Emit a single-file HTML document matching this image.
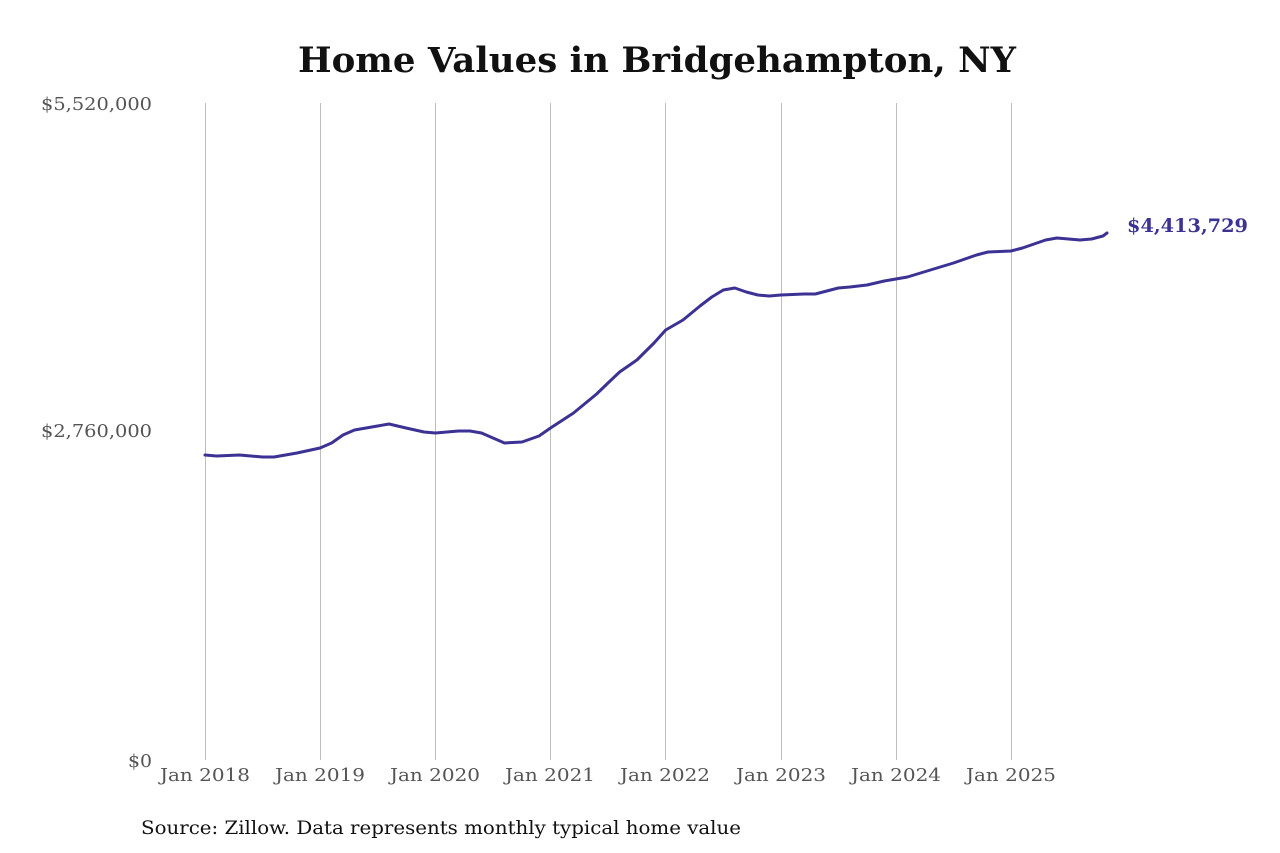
<!DOCTYPE html>
<html><head><meta charset="utf-8"><style>
html,body{margin:0;padding:0;background:#fff;}
svg{display:block;}
</style></head><body>
<svg width="1280" height="853" xmlns="http://www.w3.org/2000/svg" font-family="'DejaVu Serif','Liberation Serif',serif">
<text x="298" y="72" font-size="35" font-weight="bold" fill="#111" textLength="718" lengthAdjust="spacingAndGlyphs">Home Values in Bridgehampton, NY</text>
<g stroke="#bdbdbd" stroke-width="1">
<line x1="205.5" y1="103" x2="205.5" y2="760"/>
<line x1="320.5" y1="103" x2="320.5" y2="760"/>
<line x1="435.5" y1="103" x2="435.5" y2="760"/>
<line x1="550.5" y1="103" x2="550.5" y2="760"/>
<line x1="665.5" y1="103" x2="665.5" y2="760"/>
<line x1="781.5" y1="103" x2="781.5" y2="760"/>
<line x1="896.5" y1="103" x2="896.5" y2="760"/>
<line x1="1011.5" y1="103" x2="1011.5" y2="760"/>
</g>
<g font-size="18" fill="#555">
<text x="41" y="110" textLength="111" lengthAdjust="spacingAndGlyphs">$5,520,000</text>
<text x="41" y="437" textLength="111" lengthAdjust="spacingAndGlyphs">$2,760,000</text>
<text x="128" y="767" textLength="24" lengthAdjust="spacingAndGlyphs">$0</text>
</g>
<g font-size="18" fill="#555">
<text x="160" y="781" textLength="90" lengthAdjust="spacingAndGlyphs">Jan 2018</text>
<text x="275" y="781" textLength="90" lengthAdjust="spacingAndGlyphs">Jan 2019</text>
<text x="390" y="781" textLength="90" lengthAdjust="spacingAndGlyphs">Jan 2020</text>
<text x="505" y="781" textLength="90" lengthAdjust="spacingAndGlyphs">Jan 2021</text>
<text x="620" y="781" textLength="90" lengthAdjust="spacingAndGlyphs">Jan 2022</text>
<text x="736" y="781" textLength="90" lengthAdjust="spacingAndGlyphs">Jan 2023</text>
<text x="851" y="781" textLength="90" lengthAdjust="spacingAndGlyphs">Jan 2024</text>
<text x="966" y="781" textLength="90" lengthAdjust="spacingAndGlyphs">Jan 2025</text>
</g>
<polyline fill="none" stroke="#3b3294" stroke-width="3" stroke-linejoin="round" stroke-linecap="round" points="205,455 216.5,456 239.5,455 262.6,457 274,457 297,453 320,448 331.6,443 343,435 354.5,430 377.6,426 389,424 406,428 424,432 435.4,433 458.5,431 470,431 481.5,433 493,438 504.5,443 522,442 539,436 550.5,428 573.5,413 596.6,394 608,383 619.6,372 636.9,360 654,343 665.7,330 683,320 700,306 711.8,297 723.3,290 734.8,288 746.3,292 757.8,295 769.3,296 780.8,295 803.8,294 815.3,294 838.3,288 849.9,287 867,285 884.3,281 895.9,279 907.4,277 930.4,270 953.5,263 976.5,255 988,252 1011,251 1022.5,248 1045.6,240 1057,238 1080,240 1091.6,239 1103,236 1107,233"/>
<text x="1127" y="232" font-size="19" font-weight="bold" fill="#3b3294" textLength="121" lengthAdjust="spacingAndGlyphs">$4,413,729</text>
<text x="141" y="834" font-size="19" fill="#111" textLength="600" lengthAdjust="spacingAndGlyphs">Source: Zillow. Data represents monthly typical home value</text>
</svg>
</body></html>
